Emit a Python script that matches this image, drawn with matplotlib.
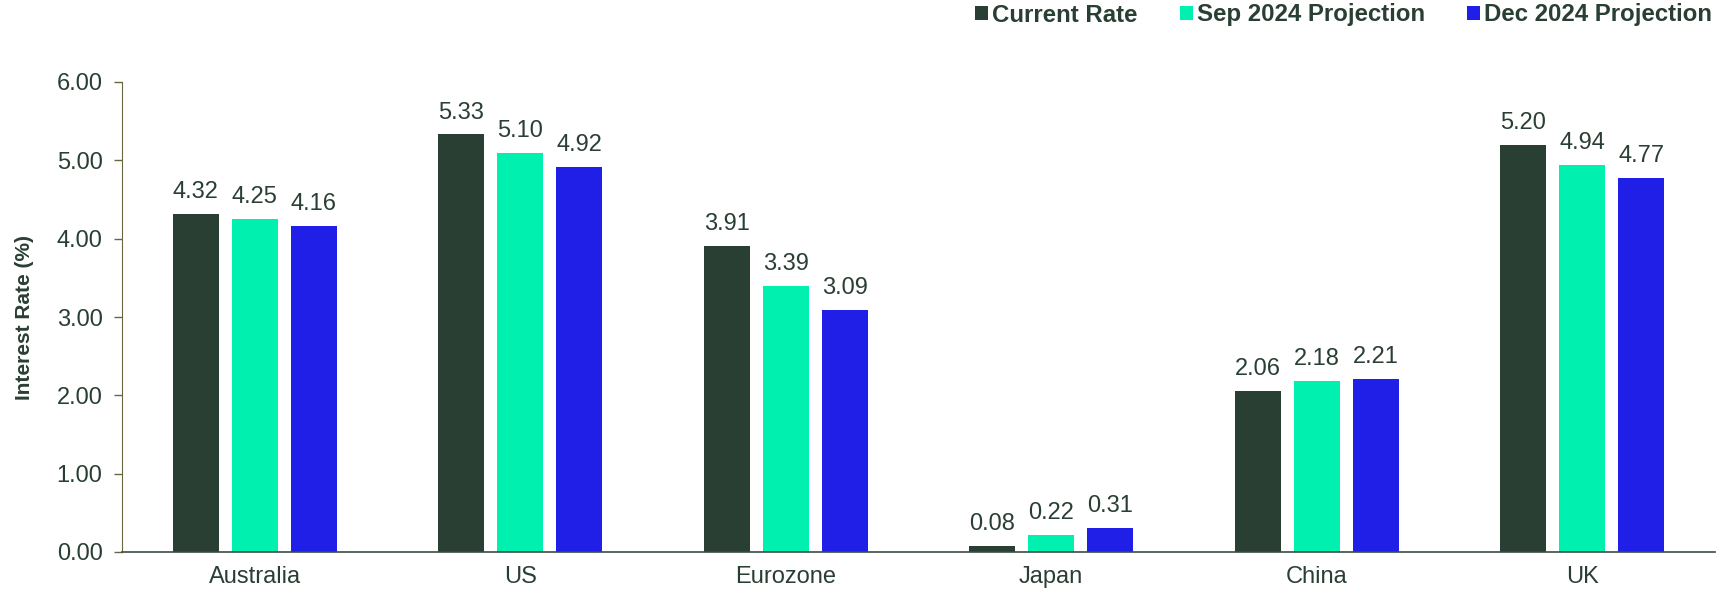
import matplotlib
matplotlib.use("Agg")
import matplotlib.pyplot as plt
import numpy as np

categories = ["Australia", "US", "Eurozone", "Japan", "China", "UK"]
current_rate = [4.32, 5.33, 3.91, 0.08, 2.06, 5.20]
sep_2024 = [4.25, 5.10, 3.39, 0.22, 2.18, 4.94]
dec_2024 = [4.16, 4.92, 3.09, 0.31, 2.21, 4.77]
series_names = ["Current Rate", "Sep 2024 Projection", "Dec 2024 Projection"]
y_ticks = [0, 1, 2, 3, 4, 5, 6]

colors = ["#2a3f33", "#00f0b0", "#1f1fe8"]
text_color = "#2a3f33"

plt.rcParams['font.family'] = ['Liberation Sans', 'DejaVu Sans']

fig = plt.figure(figsize=(17.31, 5.93), dpi=100)
ax = fig.add_axes([122/1731, 1-552/593, (1715-122)/1731, (552-82)/593])

x = np.arange(len(categories))
width = 46/265.5
step = 59/265.5
all_series = [current_rate, sep_2024, dec_2024]
for i, (vals, c, name) in enumerate(zip(all_series, colors, series_names)):
    bars = ax.bar(x + (i-1)*step, vals, width, color=c, label=name, zorder=2)
    for b, v in zip(bars, vals):
        ax.annotate(f"{v:.2f}", (b.get_x()+b.get_width()/2, v), xytext=(0, 11.5),
                    textcoords="offset points", ha="center", va="baseline",
                    fontsize=17, color=text_color)

ax.set_xlim(-0.5, len(categories)-0.5)
ax.set_ylim(0, 6)
ax.set_yticks(y_ticks)
ax.set_yticklabels([f"{t:.2f}" for t in y_ticks])
ax.set_xticks(x)
ax.set_xticklabels(categories)
ax.tick_params(axis='x', length=0, pad=10, labelsize=17, labelcolor=text_color)
ax.tick_params(axis='y', length=6, direction='out', width=1, color="#6b6540",
               pad=8, labelsize=17, labelcolor=text_color)
for s in ["top", "right"]:
    ax.spines[s].set_visible(False)
ax.spines["left"].set_color("#6b6540")
ax.spines["bottom"].set_color("#3c4a42")
ax.spines["bottom"].set_linewidth(1.2)
ax.set_ylabel("Interest Rate (%)", fontsize=15, fontweight="bold", color=text_color, labelpad=16)

leg = fig.legend(loc="center right", bbox_to_anchor=(1712/1731, 1-15/593), ncol=3,
                 frameon=False, handlelength=0.54, handleheight=0.47, handletextpad=0.17,
                 columnspacing=1.75, borderaxespad=0, borderpad=0,
                 prop={"size": 17.3, "weight": "bold"})
for t in leg.get_texts():
    t.set_color(text_color)

fig.savefig("out.png", dpi=100)
